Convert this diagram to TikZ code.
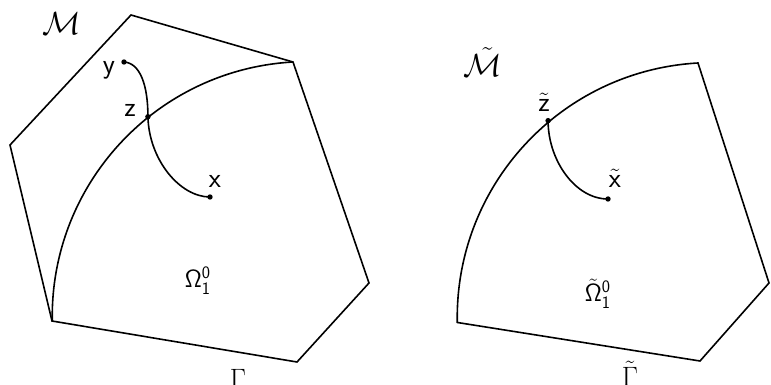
\RequirePackage{fix-cm}
\documentclass[tikz,border=0pt]{standalone}
\usepackage{amsmath}
\usepackage{amssymb}
\usetikzlibrary{calc}

\tikzset{
    lbl/.style={anchor=base,inner sep=0pt,font=\fontsize{28}{34}\selectfont},
    bigl/.style={lbl,font=\fontsize{32}{38}\selectfont},
    omg/.style={anchor=base west,inner sep=0pt,font=\fontsize{25}{30}\selectfont}
}

\begin{document}
\begin{tikzpicture}[x=1pt,y=1pt,line width=1.6pt,line join=miter]
\useasboundingbox (0,0) rectangle (771,385);

% Region M
\coordinate (T) at (131,370);
\coordinate (UR) at (293,323);
\coordinate (R) at (369,102);
\coordinate (BR) at (297,23);
\coordinate (BL) at (52,64);
\coordinate (L) at (10,240);
\draw (BL) -- (L) -- (T) -- (UR) -- (R) -- (BR) -- cycle;

% Arc
\draw (UR) arc (93.2:181.1:255);

% Path y - z - x
\coordinate (y) at (124,323);
\coordinate (z) at ($(307,69)+(128.6:255)$);
\coordinate (x) at (210,188);
\draw (y) .. controls (140,322) and (148,300) .. (z)
    .. controls (149,225) and (180,188) .. (x);
\fill (y) circle (2.7);
\fill (z) circle (2.7);
\fill (x) circle (2.7);

% Labels
\node[bigl] (lM) at (62,350) {$\mathcal{M}$};
\node[lbl] (ly) at (109,311) {$\mathsf{y}$};
\node[lbl] (lz) at (130,268) {$\mathsf{z}$};
\node[lbl] (lx) at (215,197) {$\mathsf{x}$};
\node[omg] (lO) at (184,97) {$\mathsf{\Omega}_{\mathsf{1}}^{\mathsf{0}}$};
\node[lbl] (lG) at (238,-4) {$\Gamma$};

% Region M tilde
\coordinate (UR2) at (698,322);
\coordinate (R2) at (769,102);
\coordinate (BR2) at (700,24);
\draw (UR2) arc (93.2:181.1:255) coordinate (BL2) -- (BR2) -- (R2) -- cycle;

% Path z tilde - x tilde
\coordinate (z2) at ($(712,69)+(130:255)$);
\coordinate (x2) at (608,186);
\draw (z2) .. controls (548,225) and (575,186) .. (x2);
\fill (z2) circle (2.7);
\fill (x2) circle (2.7);

% Labels
\node[bigl] (lM2) at (483,308) {$\tilde{\mathcal{M}}$};
\node[lbl] (lz2) at (544,273) {$\tilde{\mathsf{z}}$};
\node[lbl] (lx2) at (615,197) {$\tilde{\mathsf{x}}$};
\node[omg] (lO2) at (584,83) {$\tilde{\mathsf{\Omega}}_{\mathsf{1}}^{\mathsf{0}}$};
\node[lbl] (lG2) at (630,-2) {$\tilde{\Gamma}$};

\end{tikzpicture}
\end{document}
